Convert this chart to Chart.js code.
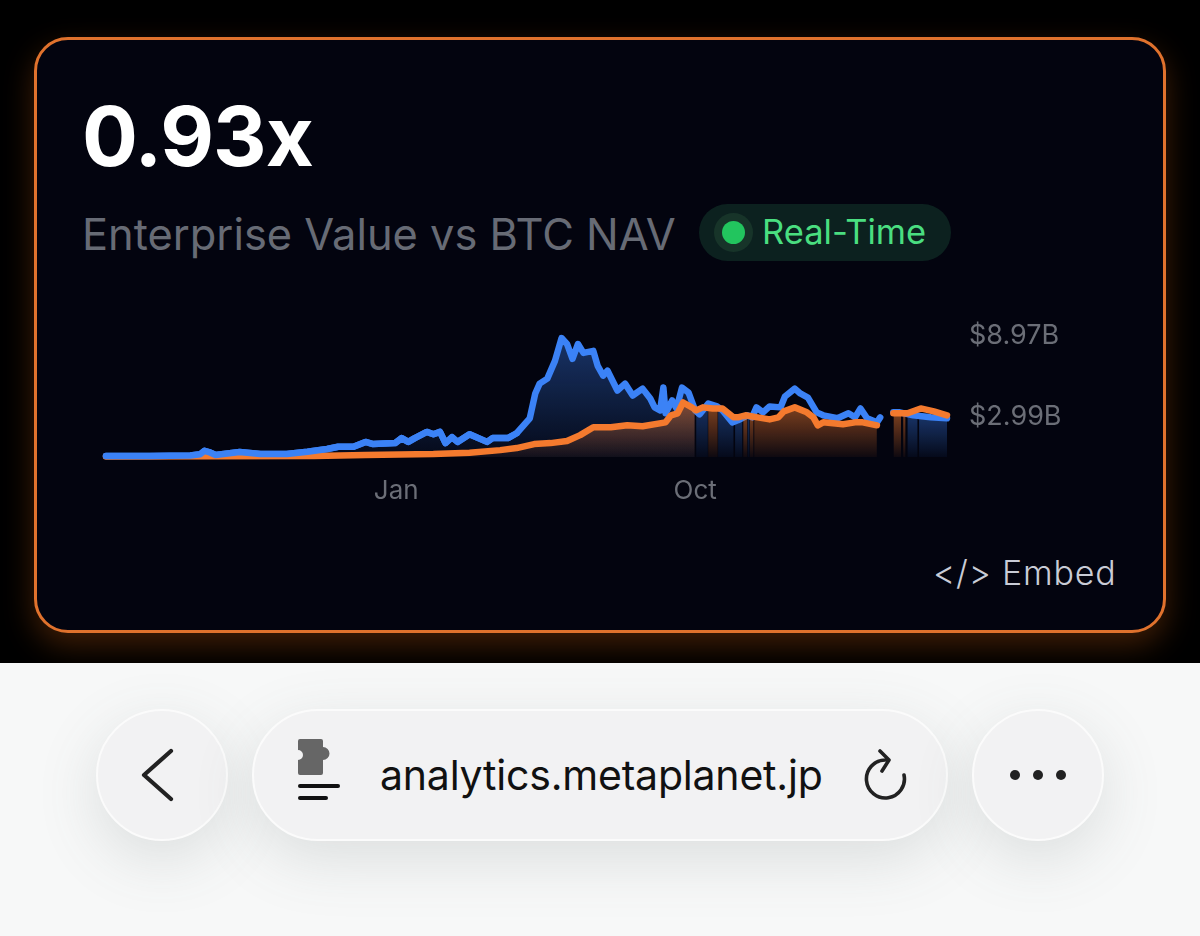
<!DOCTYPE html>
<html>
<head>
<meta charset="utf-8">
<title>Enterprise Value vs BTC NAV</title>
<script src="https://cdn.jsdelivr.net/npm/chart.js@4"></script>
<style>
    html, body { margin: 0; width: 1200px; height: 936px; overflow: hidden; background: #000; font-family: Inter, sans-serif; }
    .card { position: absolute; left: 34px; top: 37px; width: 1126px; height: 590px; border: 3px solid #e0722d; border-radius: 34px; background: #03040f; box-shadow: 0 12px 30px rgba(249, 115, 22, 0.26); }
    .abs { position: absolute; white-space: nowrap; }
    #ratio { left: 82px; top: 88px; font-size: 83px; line-height: 96px; font-weight: 700; color: #fff; letter-spacing: -1px; }
    #subtitle { left: 82px; top: 206px; font-size: 43.4px; line-height: 56px; font-weight: 400; color: #676b75; }
    #badge { left: 699px; top: 204px; width: 252px; height: 57px; border-radius: 29px; background: #0c211f; }
    #halo { left: 714px; top: 213px; width: 39px; height: 39px; border-radius: 50%; background: #173429; }
    #dot { left: 722px; top: 221px; width: 23px; height: 23px; border-radius: 50%; background: #22c55e; }
    #live { left: 762px; top: 212px; font-size: 34.5px; line-height: 40px; color: #4ade80; }
    #embed { left: 933px; top: 552px; font-size: 34px; line-height: 42px; font-weight: 300; color: #c9ccd6; letter-spacing: 0.8px; }
    #chart { position: absolute; left: 90px; top: 291px; }
    .bar { position: absolute; left: 0; top: 663px; width: 1200px; height: 273px; background: #f7f8f8; overflow: hidden; }
    .pill { position: absolute; top: 709px; height: 128px; border: 2.5px solid #fbfbfb; background: #f2f2f3; border-radius: 66px; box-shadow: 0 18px 60px rgba(90, 100, 100, 0.17); }
    #url { left: 380px; top: 752px; font-size: 41px; line-height: 46px; color: #111; letter-spacing: -0.2px; }
    svg { position: absolute; }
</style>
</head>
<body>
<div class="card"></div>
<div class="abs" id="ratio">0.93x</div>
<div class="abs" id="subtitle">Enterprise Value vs BTC NAV</div>
<div class="abs" id="badge"></div>
<div class="abs" id="halo"></div>
<div class="abs" id="dot"></div>
<div class="abs" id="live">Real-Time</div>
<canvas id="chart" width="990" height="219"></canvas>
<div class="abs" id="embed">&lt;/&gt; Embed</div>

<div class="bar"></div>
<div class="pill" style="left:96px;width:128px"></div>
<div class="pill" style="left:252px;width:692px"></div>
<div class="pill" style="left:972px;width:128px"></div>
<svg style="left:130px;top:740px" width="60" height="70" viewBox="0 0 60 70"><path d="M41 11 L14 35 L41 59" fill="none" stroke="#222" stroke-width="4.2" stroke-linecap="round" stroke-linejoin="round"/></svg>
<svg style="left:290px;top:730px" width="60" height="80" viewBox="0 0 60 80">
    <path d="M8 11 Q8 9 10 9 H31 Q33 9 33 11 V17 A6 6 0 1 1 33 30 V43 Q33 45 31 45 H10 Q8 45 8 43 V30 A5 5 0 1 0 8 20 Z" fill="#666"/>
    <rect x="8" y="54" width="42" height="4" rx="2" fill="#111"/>
    <rect x="8" y="66" width="30" height="4" rx="2" fill="#111"/>
</svg>
<div class="abs" id="url">analytics.metaplanet.jp</div>
<svg style="left:860px;top:745px" width="54" height="62" viewBox="0 0 54 62"><path d="M25 15 A19 19 0 1 0 44 30 M20 6 L29 15 L22 26" fill="none" stroke="#222" stroke-width="3.6" stroke-linecap="round" stroke-linejoin="round"/></svg>
<svg style="left:1005px;top:765px" width="66" height="20" viewBox="0 0 66 20"><circle cx="10" cy="10" r="5" fill="#222"/><circle cx="33" cy="10" r="5" fill="#222"/><circle cx="56" cy="10" r="5" fill="#222"/></svg>

<script>
// Valores en miles de millones de USD
const evDays = [0, 40, 77, 86, 90, 94, 100, 122, 141, 165, 184, 202, 212, 226, 237, 244, 264, 270, 276, 282, 293, 299, 305, 310, 316, 321, 332, 348, 353, 367, 375, 387, 392, 396, 403, 410, 416, 421, 426, 431, 436, 445, 449, 454, 458, 467, 474, 481, 490, 497, 501, 506, 509, 511, 517, 521, 526, 532, 538, 542, 550, 558, 563, 572, 577, 586, 590, 594, 600, 606, 616, 620, 629, 634, 641, 649, 655, 668, 678, 684, 689, 695, 704, 707, 712, 719, 725, 737, 753, 768];
const evValues = [0.07, 0.07, 0.11, 0.20, 0.46, 0.37, 0.15, 0.37, 0.22, 0.22, 0.39, 0.59, 0.76, 0.76, 1.12, 0.96, 1.03, 1.40, 1.12, 1.40, 1.86, 1.69, 1.86, 1.03, 1.47, 1.12, 1.69, 1.12, 1.40, 1.40, 1.76, 2.87, 4.71, 5.44, 5.81, 7.13, 8.82, 8.38, 7.28, 8.38, 7.72, 7.87, 6.76, 6.03, 6.40, 4.93, 5.44, 4.56, 5.07, 4.34, 3.68, 3.46, 5.15, 3.24, 4.19, 3.60, 5.15, 4.78, 3.46, 3.16, 3.97, 3.75, 3.46, 2.57, 2.72, 3.09, 2.94, 3.68, 3.31, 3.75, 3.68, 4.49, 5.07, 4.71, 4.41, 3.31, 3.09, 2.87, 3.24, 2.94, 3.60, 2.87, 2.57, 2.94, null, 3.31, 3.31, 3.09, 2.94, 2.87];
const navDays = [0, 100, 190, 237, 299, 332, 360, 375, 391, 406, 421, 433, 445, 461, 476, 490, 511, 516, 522, 527, 535, 539, 545, 554, 563, 573, 577, 584, 595, 606, 614, 619, 629, 640, 646, 650, 655, 673, 684, 691, 704, 710, 719, 732, 744, 756, 768];
const navValues = [0.03, 0.05, 0.07, 0.15, 0.22, 0.32, 0.51, 0.66, 0.96, 1.03, 1.18, 1.62, 2.21, 2.21, 2.35, 2.28, 2.57, 3.09, 3.24, 4.04, 3.68, 3.46, 3.68, 3.60, 3.60, 2.94, 2.94, 3.09, 2.94, 2.79, 2.94, 3.38, 3.68, 3.31, 2.94, 2.35, 2.57, 2.43, 2.57, 2.57, 2.35, null, 3.24, 3.24, 3.60, 3.38, 3.09];

const xTickDays = [265, 538];
const xTickLabels = ['Jan', 'Oct'];
const yTickValues = [2.99, 8.97];

// Tramos del relleno: cada serie rellena solo donde manda
const evFillSpans = [[0, 537.5], [539, 549.5], [559, 573], [574.5, 581], [586, 587.5], [732, 741], [742.5, 768]];
const navFillSpans = [[0, 537.5], [550, 558.5], [582, 585.5], [588, 591.2], [592, 704], [706, 709], [719, 726], [728, 730]];

const blue = '#3b82f6';
const orange = '#f47a2e';

function fillPattern(chart, spans, days, values, rgb, topAlpha) {
    const off = document.createElement('canvas');
    off.width = chart.width;
    off.height = chart.height;
    const c = off.getContext('2d');
    const x = chart.scales.x;
    const y = chart.scales.y;
    spans.forEach(function (span) {
        // El degradado de cada tramo va de su punto mas alto a la base
        const inside = values.filter((v, i) => v !== null && days[i] >= span[0] - 5 && days[i] <= span[1] + 5);
        const top = y.getPixelForValue(Math.max.apply(null, inside));
        const base = y.getPixelForValue(0);
        const grad = c.createLinearGradient(0, top, 0, base);
        grad.addColorStop(0, 'rgba(' + rgb + ', ' + topAlpha + ')');
        grad.addColorStop(1, 'rgba(' + rgb + ', 0.05)');
        c.fillStyle = grad;
        const left = x.getPixelForValue(span[0]);
        c.fillRect(left, 0, x.getPixelForValue(span[1]) - left, base);
    });
    return c.createPattern(off, 'no-repeat');
}

function toPoints(days, values) {
    return days.map((d, i) => ({ x: d, y: values[i] }));
}

const lineStyle = { pointRadius: 0, borderWidth: 6.5, borderJoinStyle: 'round', borderCapStyle: 'round', clip: false, spanGaps: false, tension: 0 };

const chart = new Chart(document.getElementById('chart').getContext('2d'), {
    type: 'line',
    data: {
        datasets: [
            // Al principio la linea azul queda encima de la naranja
            Object.assign({ label: 'EV (inicio)', data: toPoints(evDays.slice(0, 31), evValues.slice(0, 31)), borderColor: blue, fill: false }, lineStyle),
            Object.assign({ label: 'BTC NAV', data: toPoints(navDays, navValues), borderColor: orange, fill: 'origin' }, lineStyle),
            Object.assign({ label: 'Enterprise Value', data: toPoints(evDays, evValues), borderColor: blue, fill: 'origin' }, lineStyle)
        ]
    },
    options: {
        responsive: false,
        animation: false,
        layout: { autoPadding: false, padding: { left: 16 } },
        plugins: { legend: { display: false }, tooltip: { enabled: false } },
        scales: {
            x: {
                type: 'linear',
                min: 0,
                max: 768,
                bounds: 'data',
                grid: { display: false },
                border: { display: false },
                afterBuildTicks: function (scale) { scale.ticks = xTickDays.map(d => ({ value: d })); },
                afterFit: function (scale) { scale.height = 53; },
                ticks: {
                    autoSkip: false,
                    maxRotation: 0,
                    padding: 11,
                    color: '#6b6e77',
                    font: { family: 'Inter', size: 26 },
                    callback: (value, index) => xTickLabels[index]
                }
            },
            y: {
                position: 'right',
                min: 0,
                max: 10.07,
                bounds: 'data',
                grid: { display: false },
                border: { display: false },
                afterBuildTicks: function (scale) { scale.ticks = yTickValues.map(v => ({ value: v })); },
                afterFit: function (scale) { scale.width = 133; },
                ticks: {
                    padding: 14,
                    color: '#6b6e77',
                    font: { family: 'Inter', size: 27 },
                    callback: value => '$' + value + 'B'
                }
            }
        }
    }
});

chart.data.datasets[1].backgroundColor = fillPattern(chart, navFillSpans, navDays, navValues, '244, 122, 46', 0.5);
chart.data.datasets[2].backgroundColor = fillPattern(chart, evFillSpans, evDays, evValues, '59, 130, 246', 0.38);
chart.update();
</script>
</body>
</html>
